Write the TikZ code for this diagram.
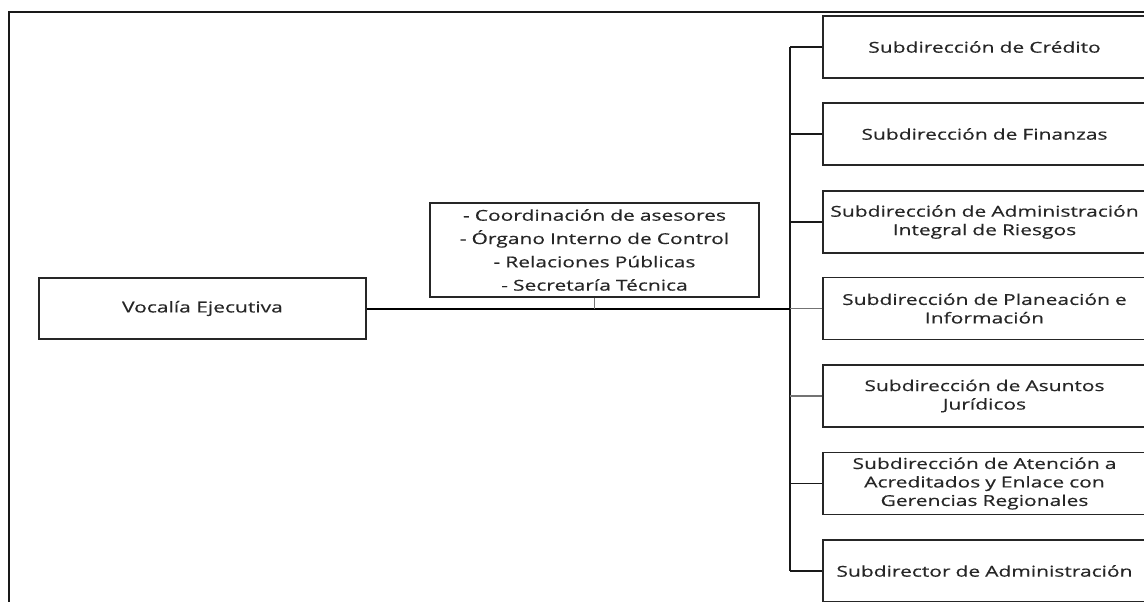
\documentclass[tikz,border=0pt]{standalone}
\usepackage{fontspec}
\setmainfont[FakeStretch=1.4,FakeBold=0.4]{Open Sans}
\begin{document}
\begin{tikzpicture}[x=1pt,y=-1pt,
  box/.style={draw=black!85, line width=1.2pt, fill=white, inner sep=0pt, align=center, text=black!85},
  rbox/.style={box, minimum width=323pt, minimum height=62pt, text width=318pt,
    font=\fontsize{15}{18.5}\selectfont},
  link/.style={draw=black!90, line width=1.2pt},
  glink/.style={draw=black!55, line width=1.2pt},
  thick link/.style={draw=black, line width=2pt}]
\useasboundingbox (0,0) rectangle (1144,602);
\clip (0,0) rectangle (1144,602);
% outer frame
\draw[line width=2pt, draw=black!90] (8.5,640) -- (8.5,12.5) -- (1180,12.5);
% boxes
\node[box, minimum width=327pt, minimum height=61pt, font=\fontsize{15}{18.5}\selectfont] (voc) at (202.5,308.5) {Vocalía Ejecutiva};
\node[box, minimum width=329pt, minimum height=94pt, text width=320pt, font=\fontsize{15}{23.3}\selectfont] (aux) at (594.5,250) {- Coordinación de asesores\\- Órgano Interno de Control\\- Relaciones Públicas\\- Secretaría Técnica};
\node[rbox] (s1) at (984.5,47) {Subdirección de Crédito};
\node[rbox] (s2) at (984.5,134) {Subdirección de Finanzas};
\node[rbox] (s3) at (984.5,222) {Subdirección de Administración\\Integral de Riesgos};
\node[rbox] (s4) at (984.5,308.5) {Subdirección de Planeación e\\Información};
\node[rbox] (s5) at (984.5,396) {Subdirección de Asuntos\\Jurídicos};
\node[rbox] (s6) at (984.5,483.5) {Subdirección de Atención a\\Acreditados y Enlace con\\Gerencias Regionales};
\node[rbox] (s7) at (984.5,571) {Subdirector de Administración};
% trunk
\coordinate (ttop) at (790,47);
\coordinate (tbot) at (790,571);
\coordinate (tmid) at (790,308.5);
\draw[link] (ttop) -- (tbot);
\draw[thick link] (voc.east) -- (tmid);
\draw[glink] (aux.south) -- (aux.south |- tmid);
\foreach \n in {s1,s2,s3,s6,s7} {\draw[link] (\n.west) -- (\n.west -| ttop);}
\foreach \n in {s4,s5} {\draw[glink] (\n.west) -- (\n.west -| ttop);}
\end{tikzpicture}
\end{document}
